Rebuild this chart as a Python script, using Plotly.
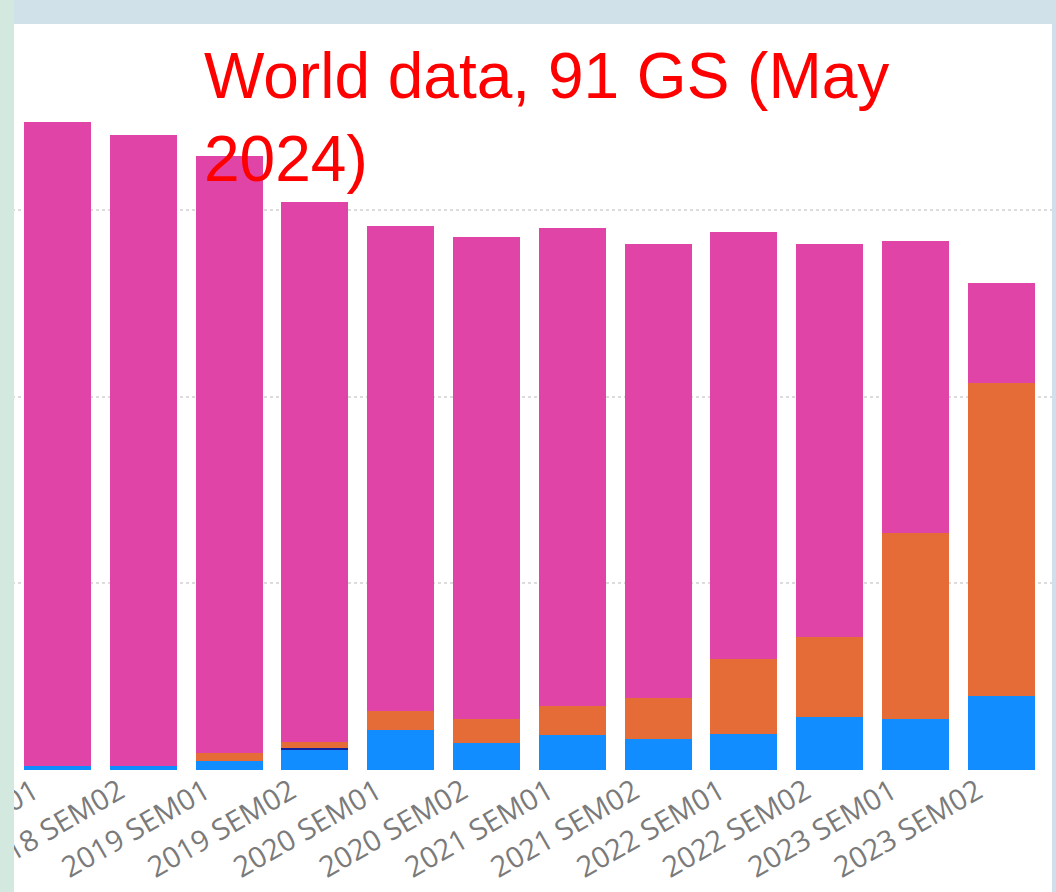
import plotly.graph_objects as go

categories = ["2018 SEM01", "2018 SEM02", "2019 SEM01", "2019 SEM02", "2020 SEM01", "2020 SEM02",
              "2021 SEM01", "2021 SEM02", "2022 SEM01", "2022 SEM02", "2023 SEM01", "2023 SEM02"]
blue_vals = [2.1, 2.1, 4.8, 10.7, 21.3, 14.4, 18.7, 16.5, 19.2, 28.3, 27.2, 39.5]
navy_vals = [0, 0, 0, 1.1, 0, 0, 0, 0, 0, 0, 0, 0]
orange_vals = [0, 0, 4.3, 3.2, 10.1, 12.8, 15.5, 21.9, 40.5, 42.7, 99.7, 168.0]
pink_vals = [345.0, 338.0, 320.0, 289.5, 260.0, 258.3, 256.0, 243.5, 228.5, 210.8, 156.5, 53.5]
series_names = ["Series A", "Series B", "Series C", "Series D"]
series_colors = ["#118DFF", "#12239E", "#E66C37", "#E044A7"]
title_text = "World data, 91 GS (May<br>2024)"

W, H = 1056, 892
top_px, base_px = 24, 770
plot_h = base_px - top_px
unit_px = 1.867  # pixels per value unit

fig = go.Figure()
for name, vals, col in zip(series_names, [blue_vals, navy_vals, orange_vals, pink_vals], series_colors):
    fig.add_trace(go.Bar(x=categories, y=vals, name=name, marker=dict(color=col, line=dict(width=0))))

step = 85.8
x0 = -57.5 / step
x1 = x0 + W / step

fig.update_layout(
    template="none",
    width=W, height=H,
    barmode="stack", bargap=0.22,
    showlegend=False,
    paper_bgcolor="white", plot_bgcolor="white",
    margin=dict(l=0, r=0, t=top_px, b=H - base_px, pad=0, autoexpand=False),
    xaxis=dict(range=[x0, x1], tickangle=-30, automargin=False, showgrid=False, zeroline=False,
               showline=False, ticks="", ticklabelshift=-24, ticklabelstandoff=-2,
               tickfont=dict(family="Open Sans", size=29, color="#7a7a7a")),
    yaxis=dict(range=[0, plot_h / unit_px], dtick=100, showticklabels=False, automargin=False,
               showgrid=True, gridcolor="#dcdcdc", gridwidth=2, griddash="dot", zeroline=False,
               showline=False, ticks=""),
    annotations=[dict(text=title_text, xref="paper", yref="paper", x=202 / W, y=1 + (top_px - 38) / plot_h,
                      xanchor="left", yanchor="top", align="left", showarrow=False,
                      font=dict(family="Liberation Sans, Arial", size=64, color="#ff0000"))],
    shapes=[
        dict(type="rect", xref="paper", yref="paper", x0=14 / W, x1=1, y0=1, y1=1 + top_px / plot_h,
             fillcolor="#d0e1ea", line=dict(width=0), layer="above"),
        dict(type="rect", xref="paper", yref="paper", x0=0, x1=14 / W, y0=-(H - base_px) / plot_h,
             y1=1 + top_px / plot_h, fillcolor="#d3e8de", line=dict(width=0), layer="above"),
        dict(type="rect", xref="paper", yref="paper", x0=1052 / W, x1=1, y0=-(H - base_px) / plot_h,
             y1=1, fillcolor="#cfe0ec", line=dict(width=0), layer="above"),
    ],
)

fig.write_html("out.html", config={"displayModeBar": False},
               post_script="document.body.style.margin='0';document.body.style.overflow='hidden';")
